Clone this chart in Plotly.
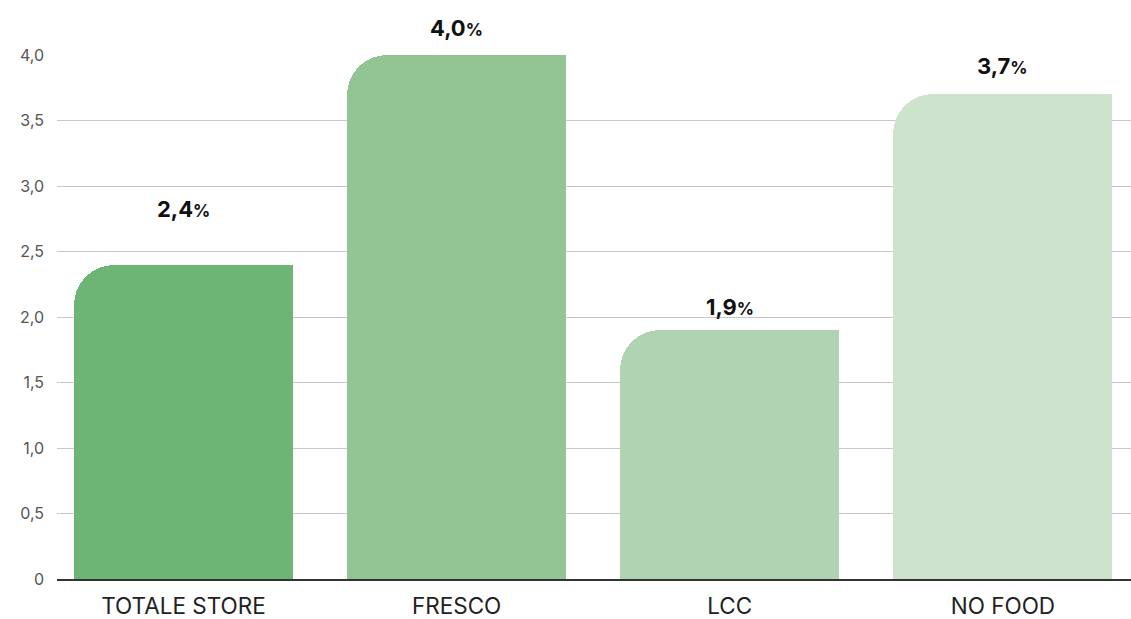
import plotly.graph_objects as go

# Growth by department (%)
categories = ["TOTALE STORE", "FRESCO", "LCC", "NO FOOD"]
values = [2.4, 4.0, 1.9, 3.7]
y_tick_vals = [0, 0.5, 1.0, 1.5, 2.0, 2.5, 3.0, 3.5, 4.0]
y_tick_text = ["0", "0,5", "1,0", "1,5", "2,0", "2,5", "3,0", "3,5", "4,0"]

colors = ["#6cb574", "#92c593", "#b0d4b1", "#cde3cc"]
label_offsets = [56, 27, 23, 28]  # px above bar top
bar_width = 0.802

fig = go.Figure()

# Main bars, rounded top corners
fig.add_trace(go.Bar(
    x=categories, y=values, width=bar_width,
    marker=dict(color=colors, line=dict(width=0), cornerradius=40),
    hoverinfo="skip", showlegend=False,
))
# Right half overlay keeps the top-right corner square
fig.add_trace(go.Bar(
    x=categories, y=values, width=bar_width / 2, offset=0,
    marker=dict(color=colors, line=dict(width=0)),
    hoverinfo="skip", showlegend=False,
))

def fmt(v):
    return f"{v:.1f}".replace(".", ",")

for cat, v, off in zip(categories, values, label_offsets):
    fig.add_annotation(
        x=cat, y=v, xref="x", yref="y", yshift=off,
        text=f"<b>{fmt(v)}<span style='font-size:17px'>%</span></b>",
        showarrow=False, yanchor="middle",
        font=dict(family="Inter", size=22, color="#111111"),
    )

fig.update_layout(
    width=1131, height=619,
    margin=dict(l=57, r=0, t=55, b=40),
    paper_bgcolor="white", plot_bgcolor="white",
    barmode="overlay", bargap=0,
    font=dict(family="Inter"),
    xaxis=dict(
        type="category", range=[-0.463, 3.469],
        showline=True, linecolor="#333333", linewidth=2,
        showgrid=False, ticks="", fixedrange=True,
        automargin=False, ticklabelstandoff=6,
        tickfont=dict(family="Inter", size=22.5, color="#222222"),
    ),
    yaxis=dict(
        range=[0, 4.0], tickvals=y_tick_vals, ticktext=y_tick_text,
        showgrid=True, gridcolor="#c8c8c8", gridwidth=1,
        zeroline=False, showline=False, ticks="",
        automargin=False, ticklabelstandoff=12,
        tickfont=dict(family="Inter", size=16, color="#555555"),
    ),
)

fig.write_html("out.html")
